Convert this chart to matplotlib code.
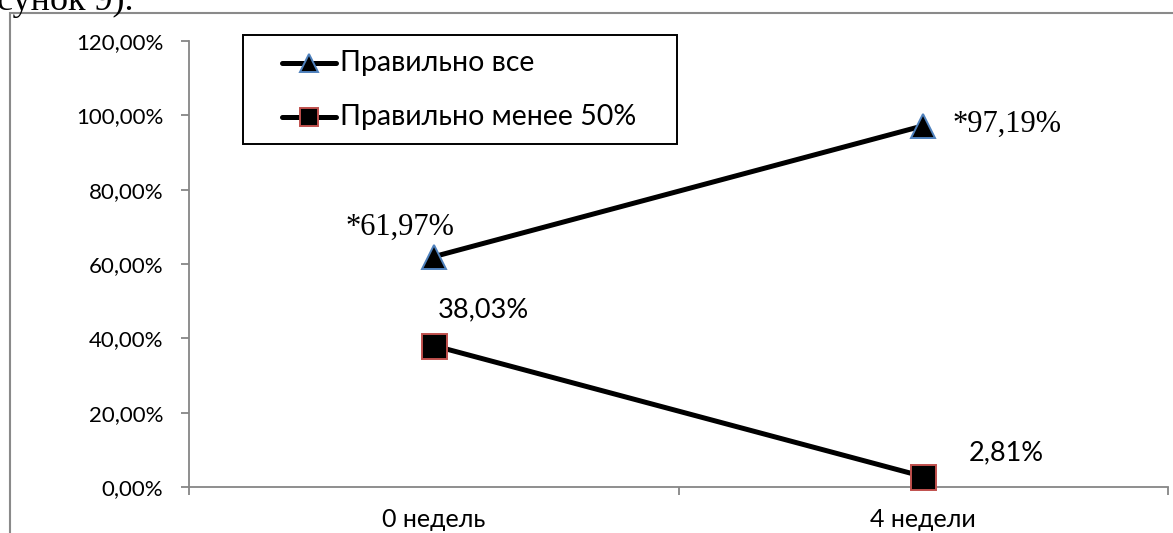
import matplotlib
matplotlib.use("Agg")
import matplotlib.pyplot as plt
from matplotlib.lines import Line2D
from matplotlib.patches import Rectangle
from matplotlib.ticker import FixedLocator, NullFormatter

# Data
categories = ["0 недель", "4 недели"]
series_names = ["Правильно все", "Правильно менее 50%"]
all_correct = [61.97, 97.19]
under_half = [38.03, 2.81]
all_correct_labels = ["*61,97%", "*97,19%"]
under_half_labels = ["38,03%", "2,81%"]
y_ticks = [0, 20, 40, 60, 80, 100, 120]
y_tick_labels = ["0,00%", "20,00%", "40,00%", "60,00%", "80,00%", "100,00%", "120,00%"]

W, H = 1173, 533
SANS = ["Lato", "DejaVu Sans"]
SERIF = ["Liberation Serif", "DejaVu Serif"]
AXIS_GREY = "#868686"
BLUE_EDGE = "#4f81bd"
RED_EDGE = "#c0504d"

plt.rcParams["font.family"] = SANS

fig = plt.figure(figsize=(W / 100, H / 100), dpi=100)
fig.patch.set_facecolor("white")


def px(x, y):
    """Pixel position (from top-left) to figure fraction."""
    return x / W, 1 - y / H


# Page text above the chart and the chart's outer frame
fig.text(*px(-3, 10), "сунок 9).", family=SERIF, fontsize=26,
         ha="left", va="baseline", color="black")
fig.patches.append(Rectangle(px(10, 700), (1300) / W, (700 - 13) / H,
                             transform=fig.transFigure, fill=False,
                             edgecolor="#8a8a8a", linewidth=1.5))

ax = fig.add_axes([189 / W, (H - 487) / H, (1168 - 189) / W, (487 - 41) / H])
ax.set_xlim(0, len(categories))
ax.set_ylim(0, 120)

x = [i + 0.5 for i in range(len(categories))]

ax.plot(x, all_correct, color="black", linewidth=3.6, marker="^",
        markersize=17, markerfacecolor="black", markeredgecolor=BLUE_EDGE,
        markeredgewidth=1.4, zorder=3, clip_on=False)
ax.plot(x, under_half, color="black", linewidth=3.6, marker="s",
        markersize=18, markerfacecolor="black", markeredgecolor=RED_EDGE,
        markeredgewidth=1.4, zorder=3, clip_on=False)

# Value labels
ax.annotate(all_correct_labels[0], (x[0], all_correct[0]), xytext=(-24, 21),
            textcoords="offset points", ha="center", va="center",
            family=SERIF, fontsize=22)
ax.annotate(all_correct_labels[1], (x[1], all_correct[1]), xytext=(21, 1),
            textcoords="offset points", ha="left", va="center",
            family=SERIF, fontsize=22)
ax.annotate(under_half_labels[0], (x[0], under_half[0]), xytext=(36, 26),
            textcoords="offset points", ha="center", va="center", fontsize=19.5)
ax.annotate(under_half_labels[1], (x[1], under_half[1]), xytext=(60, 17),
            textcoords="offset points", ha="center", va="center", fontsize=19.5)

# Axes styling
for side in ("top", "right"):
    ax.spines[side].set_visible(False)
for side in ("left", "bottom"):
    ax.spines[side].set_color(AXIS_GREY)
    ax.spines[side].set_linewidth(1.3)

ax.set_yticks(y_ticks)
ax.set_yticklabels(y_tick_labels)
ax.tick_params(axis="y", direction="out", length=5.5, width=1.3,
               color=AXIS_GREY, pad=13, labelsize=16, labelcolor="black")

ax.xaxis.set_major_locator(FixedLocator(range(len(categories) + 1)))
ax.xaxis.set_major_formatter(NullFormatter())
ax.xaxis.set_minor_locator(FixedLocator(x))
ax.set_xticklabels(categories, minor=True)
ax.tick_params(axis="x", which="major", direction="out", length=5.5,
               width=1.3, color=AXIS_GREY)
ax.tick_params(axis="x", which="minor", length=0, pad=15, labelsize=18,
               labelcolor="black")

# Legend box
lx0, ly0, lx1, ly1 = 243, 35, 677, 144
fig.patches.append(Rectangle(px(lx0, ly1), (lx1 - lx0) / W, (ly1 - ly0) / H,
                             transform=fig.transFigure, fill=False,
                             edgecolor="black", linewidth=1.4, zorder=5))
legend_rows = [
    (63, series_names[0], "^", BLUE_EDGE, 13),
    (117, series_names[1], "s", RED_EDGE, 13),
]
for row_y, name, mk, edge, ms in legend_rows:
    (hx0, hy), (hx1, _) = px(282, row_y), px(336, row_y)
    fig.add_artist(Line2D([hx0, hx1], [hy, hy], transform=fig.transFigure,
                          color="black", linewidth=3.6, solid_capstyle="round"))
    fig.add_artist(Line2D([(hx0 + hx1) / 2], [hy], transform=fig.transFigure,
                          marker=mk, markersize=ms, markerfacecolor="black",
                          markeredgecolor=edge, markeredgewidth=1.4,
                          linestyle="none"))
    fig.text(*px(340, row_y), name, ha="left", va="center", fontsize=20.5,
             color="black")

fig.savefig("out.png", dpi=100, facecolor="white")
